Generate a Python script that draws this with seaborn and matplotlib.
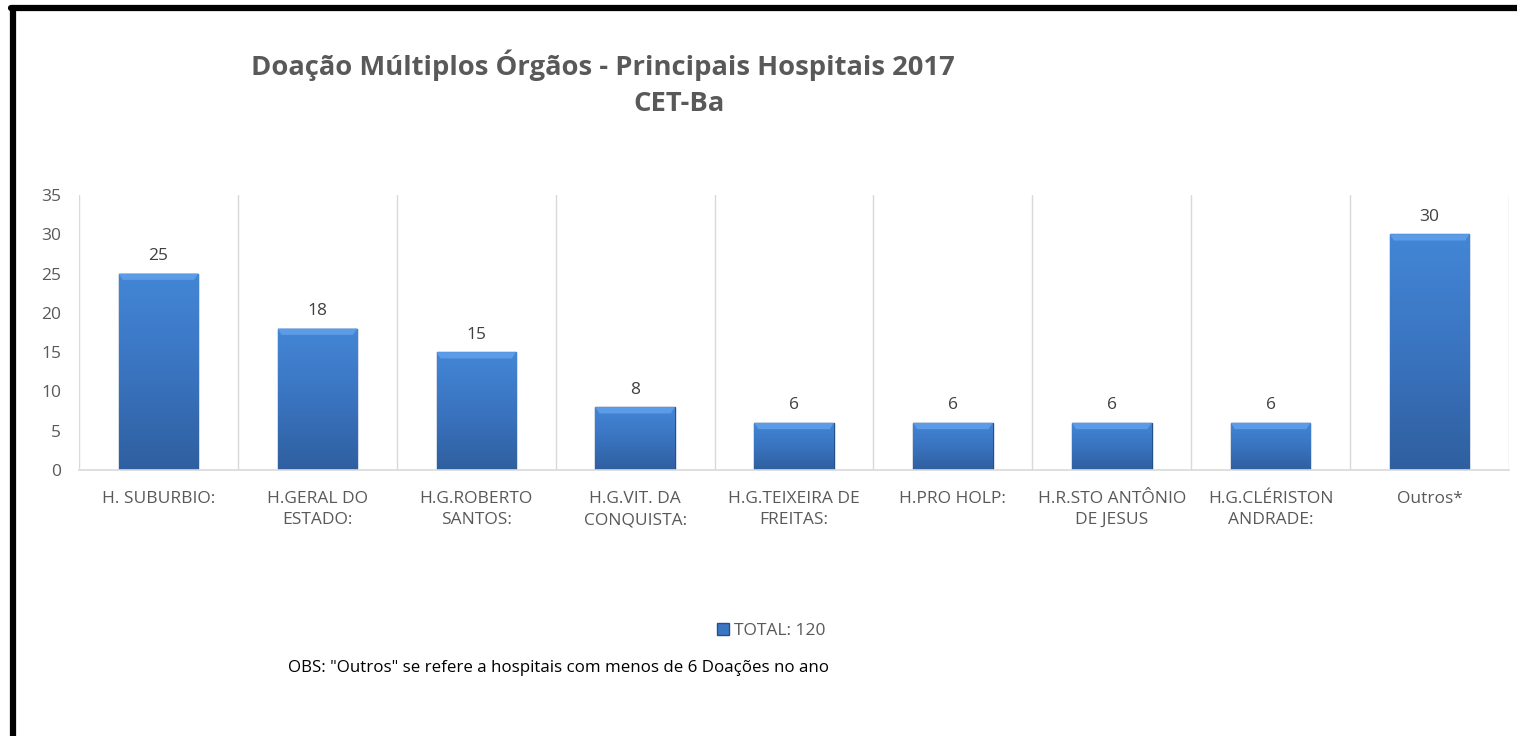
import numpy as np
import pandas as pd
import matplotlib
matplotlib.use("Agg")
import matplotlib.pyplot as plt
import seaborn as sns
from matplotlib.colors import LinearSegmentedColormap
from matplotlib.lines import Line2D

hospitals = ["H. SUBURBIO:", "H.GERAL DO\nESTADO:", "H.G.ROBERTO\nSANTOS:", "H.G.VIT. DA\nCONQUISTA:",
             "H.G.TEIXEIRA DE\nFREITAS:", "H.PRO HOLP:", "H.R.STO ANTÔNIO\nDE JESUS", "H.G.CLÉRISTON\nANDRADE:",
             "Outros*"]
doacoes = [25, 18, 15, 8, 6, 6, 6, 6, 30]
y_ticks = [0, 5, 10, 15, 20, 25, 30, 35]

sns.set_theme(style="white")
plt.rcParams["font.family"] = ["Open Sans", "DejaVu Sans"]

df = pd.DataFrame({"hospital": hospitals, "total": doacoes})

fig = plt.figure(figsize=(15.17, 7.36), dpi=100, facecolor="white")
ax = fig.add_axes([79 / 1517, 1 - 470 / 736, (1509 - 79) / 1517, (470 - 195) / 736])

sns.barplot(data=df, x="hospital", y="total", ax=ax, color="#3b76c2", width=0.5,
            edgecolor="#24508a", linewidth=1.0, saturation=1)

# gradient fill like Excel bevel
cmap = LinearSegmentedColormap.from_list("bev", ["#4386d6", "#3a74c0", "#2f5f9f"])
grad = np.linspace(0, 1, 256).reshape(-1, 1)
for p in ax.patches:
    x0, y0 = p.get_x(), p.get_y()
    w, h = p.get_width(), p.get_height()
    im = ax.imshow(grad, extent=[x0, x0 + w, y0, y0 + h], aspect="auto", cmap=cmap,
                   origin="upper", zorder=p.get_zorder() + 0.1)
    im.set_clip_path(p)
    # top bevel highlight (trapezoid)
    dx = 0.025
    ax.fill([x0, x0 + w, x0 + w - dx, x0 + dx], [y0 + h, y0 + h, y0 + h - 0.8, y0 + h - 0.8],
            color="#5c9be6", zorder=p.get_zorder() + 0.2, linewidth=0)

ax.set_xlim(-0.5, len(hospitals) - 0.5)
ax.set_ylim(0, 35)
ax.set_yticks(y_ticks)
ax.set_xlabel("")
ax.set_ylabel("")

for i in range(len(hospitals) + 1):
    ax.axvline(i - 0.5, color="#d9d9d9", linewidth=1, zorder=0)

for s in ["top", "right", "left"]:
    ax.spines[s].set_visible(False)
ax.spines["bottom"].set_color("#d9d9d9")
ax.spines["bottom"].set_linewidth(1.2)

ax.tick_params(axis="y", labelsize=12.5, labelcolor="#595959", length=0, pad=13)
ax.tick_params(axis="x", labelsize=12.5, labelcolor="#595959", length=0, pad=15)
for lab in ax.get_xticklabels():
    lab.set_verticalalignment("top")
    lab.set_linespacing(1.45)

for i, v in enumerate(doacoes):
    ax.text(i, v + 1.2, str(v), ha="center", va="bottom", fontsize=12.5, color="#404040")

fig.text(603 / 1517, 1 - 65 / 736, "Doação Múltiplos Órgãos - Principais Hospitais 2017",
         ha="center", va="center", fontsize=19.7, fontweight="bold", color="#595959")
fig.text(679 / 1517, 1 - 104 / 736, "CET-Ba", ha="center", va="center",
         fontsize=19.7, fontweight="bold", color="#595959")

handle = Line2D([], [], marker="s", linestyle="none", markersize=8,
                markerfacecolor="#3b76c2", markeredgecolor="#24508a")
fig.legend([handle], ["TOTAL: 120"], loc="center", bbox_to_anchor=(770 / 1517, 1 - 631 / 736),
           frameon=False, fontsize=12.5, labelcolor="#595959", handletextpad=0.1, handlelength=1)

fig.text(288 / 1517, 1 - 668 / 736, 'OBS: "Outros" se refere a hospitais com menos de 6 Doações no ano',
         ha="left", va="center", fontsize=12.2, color="black")

# black frame (top and left visible)
fig.add_artist(Line2D([13 / 1517, 13 / 1517], [0, 1 - 8 / 736], color="black", linewidth=4.5,
                      transform=fig.transFigure))
fig.add_artist(Line2D([11 / 1517, 1], [1 - 8 / 736, 1 - 8 / 736], color="black", linewidth=4.5,
                      transform=fig.transFigure))

fig.savefig("out.png", dpi=100, facecolor="white")
